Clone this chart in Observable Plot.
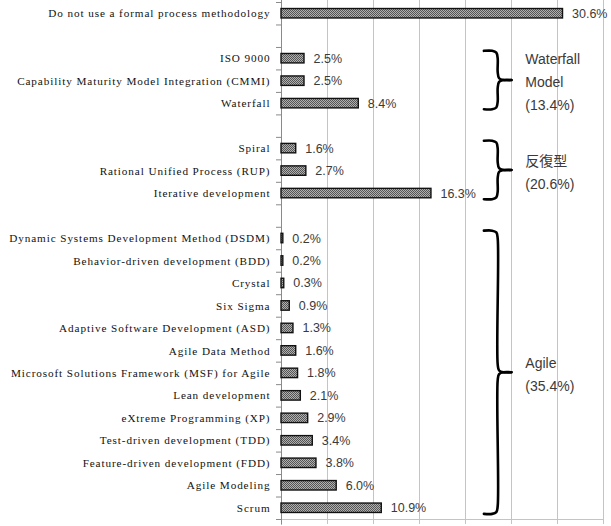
<!DOCTYPE html>
<html><head><meta charset="utf-8">
<script src="https://cdn.jsdelivr.net/npm/d3@7"></script>
<script src="https://cdn.jsdelivr.net/npm/@observablehq/plot@0.6"></script>
<style>
body{margin:0;background:#fff}
#chart svg{display:block}
g[aria-label="y-axis tick label"] text{letter-spacing:0.9px}
</style></head><body>
<svg width="0" height="0" style="position:absolute"><defs>
<pattern id="stipple" width="2" height="2" patternUnits="userSpaceOnUse">
<rect width="2" height="2" fill="#b0b0b0"/><rect width="1" height="1" fill="#555"/><rect x="1" y="1" width="1" height="1" fill="#555"/>
</pattern></defs></svg>
<div id="chart"></div>
<script>
const methods = [
  "Do not use a formal process methodology",
  "ISO 9000",
  "Capability Maturity Model Integration (CMMI)",
  "Waterfall",
  "Spiral",
  "Rational Unified Process (RUP)",
  "Iterative development",
  "Dynamic Systems Development Method (DSDM)",
  "Behavior-driven development (BDD)",
  "Crystal",
  "Six Sigma",
  "Adaptive Software Development (ASD)",
  "Agile Data Method",
  "Microsoft Solutions Framework (MSF) for Agile",
  "Lean development",
  "eXtreme Programming (XP)",
  "Test-driven development (TDD)",
  "Feature-driven development (FDD)",
  "Agile Modeling",
  "Scrum"
];
const shares = [30.6, 2.5, 2.5, 8.4, 1.6, 2.7, 16.3, 0.2, 0.2, 0.3, 0.9, 1.3, 1.6, 1.8, 2.1, 2.9, 3.4, 3.8, 6.0, 10.9];
const groupOf = ["none","waterfall","waterfall","waterfall","iterative","iterative","iterative",
  "agile","agile","agile","agile","agile","agile","agile","agile","agile","agile","agile","agile","agile"];
const groupKeys = ["waterfall","iterative","agile"];
const groupLabels = ["Waterfall\nModel","反復型","Agile"];
const groupTotals = [13.4, 20.6, 35.4];
const gridTicks = [0, 5, 10, 15, 20, 25, 30, 35];

// build rows, inserting a blank row between groups
let r = -1;
const data = methods.map((m, i) => {
  r += (i > 0 && groupOf[i] !== groupOf[i - 1]) ? 2 : 1;
  return {method: m, share: shares[i], group: groupOf[i], row: r};
});
const nRows = r + 1;
const rowName = new Map(data.map(d => [d.row, d.method]));
const boundaries = d3.range(-0.5, nRows, 1);

const braceLines = [];
const groupText = [];
groupKeys.forEach((k, gi) => {
  const rows = data.filter(d => d.group === k).map(d => d.row);
  const top = d3.min(rows) - 0.35, bot = d3.max(rows) + 0.25, mid = (top + bot) / 2;
  const up = [[22.0, top],[22.9, top],[23.35, top + 0.08],[23.5, top + 0.35],[23.5, mid - 0.35],[23.65, mid - 0.08],[24.1, mid],[25.0, mid]];
  const dn = [[22.0, bot],[22.9, bot],[23.35, bot - 0.08],[23.5, bot - 0.35],[23.5, mid + 0.35],[23.65, mid + 0.08],[24.1, mid],[25.0, mid]];
  up.forEach(([x, y]) => braceLines.push({id: k + "u", x, y}));
  dn.forEach(([x, y]) => braceLines.push({id: k + "d", x, y}));
  groupText.push({label: groupLabels[gi] + "\n(" + groupTotals[gi].toFixed(1) + "%)", mid});
});

const chart = Plot.plot({
  width: 611,
  height: 526,
  marginTop: 2,
  marginBottom: 7,
  marginLeft: 281,
  marginRight: 8,
  style: {background: "#fff", overflow: "visible"},
  x: {domain: [0, 35]},
  y: {domain: [-0.5, nRows - 0.5], reverse: true},
  marks: [
    Plot.ruleX(gridTicks.slice(1), {y1: -0.59, y2: nRows - 0.5, stroke: "#c4c4c4", strokeWidth: 1}),
    Plot.ruleY([nRows - 0.5], {stroke: "#c4c4c4"}),
    Plot.axisX({ticks: gridTicks, tickSize: 5, tickFormat: () => "", stroke: "#c4c4c4", anchor: "bottom"}),
    Plot.ruleX([0], {y1: -0.59, y2: nRows - 0.25, stroke: "#8a8a8a", strokeWidth: 1}),
    Plot.axisY({ticks: boundaries, tickSize: 5, tickFormat: () => "", stroke: "#8a8a8a", anchor: "left"}),
    Plot.axisY({ticks: data.map(d => d.row), tickSize: 0, tickPadding: 11, tickFormat: i => rowName.get(i),
      fontFamily: "Liberation Serif, Times New Roman, serif", fontSize: 11.2, fill: "#111", anchor: "left"}),
    Plot.rectX(data, {x: "share", y1: d => d.row - 0.21, y2: d => d.row + 0.21,
      fill: "url(#stipple)", stroke: "#111", strokeWidth: 1.4}),
    Plot.text(data, {x: "share", y: "row", text: d => d.share.toFixed(1) + "%", dx: 9, textAnchor: "start",
      fontFamily: "Liberation Sans, Arial, sans-serif", fontSize: 12.5, fill: "#3a3a3a"}),
    Plot.line(braceLines, {x: "x", y: "y", z: "id", curve: "catmull-rom", stroke: "#000", strokeWidth: 2.6}),
    Plot.text(groupText, {x: () => 26.5, y: "mid", text: "label", textAnchor: "start", lineAnchor: "middle",
      lineHeight: 1.64, fontFamily: "Liberation Sans, Noto Sans CJK JP, sans-serif", fontSize: 14, fill: "#3a3a3a"})
  ]
});
document.getElementById("chart").append(chart);
</script>
</body></html>
